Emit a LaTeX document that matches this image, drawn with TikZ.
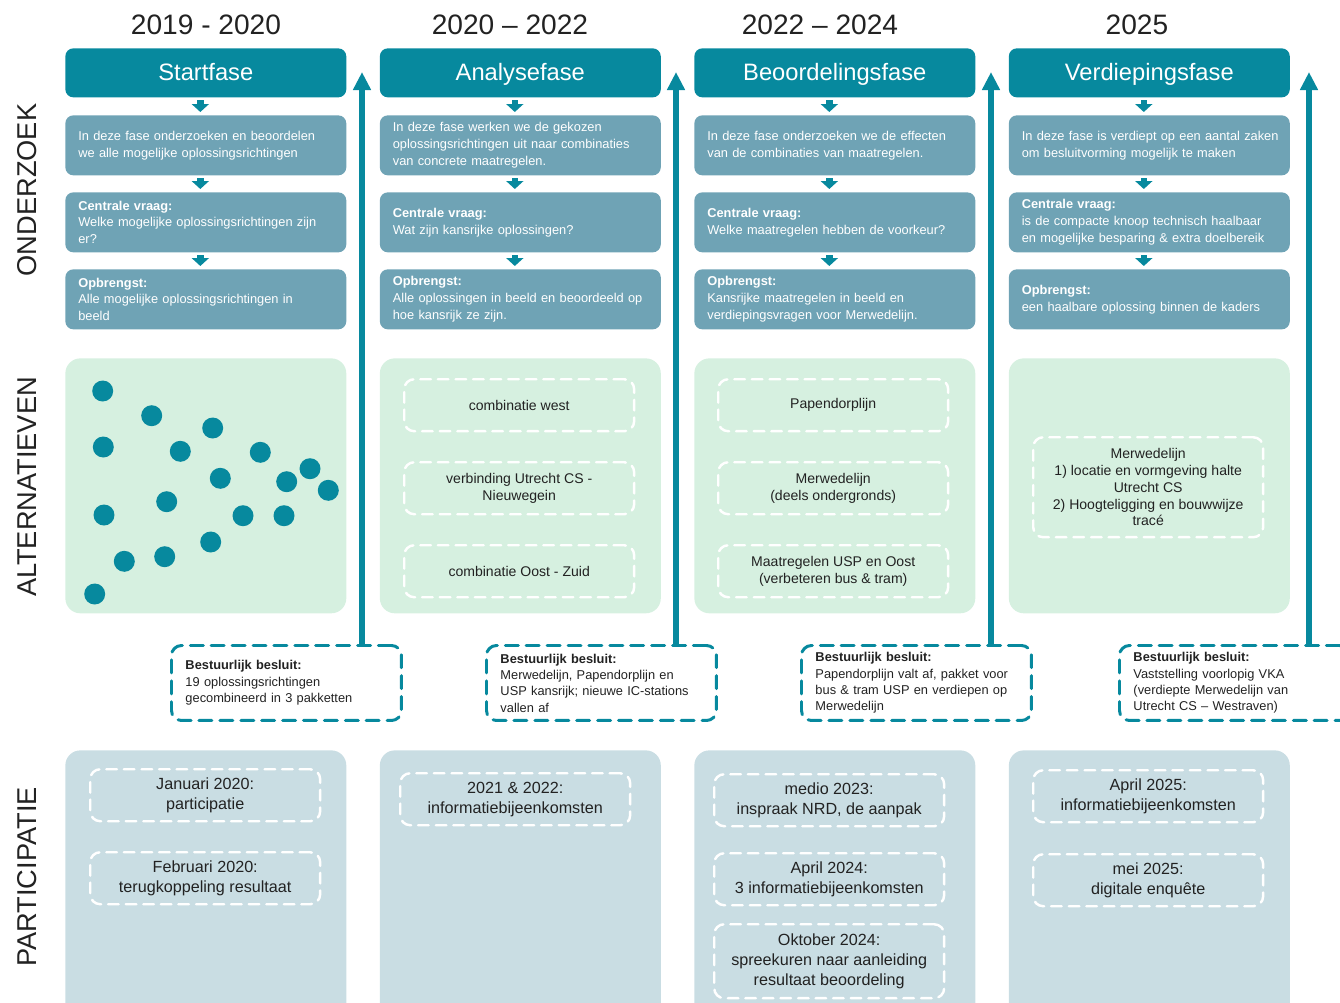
\documentclass[tikz,border=0pt]{standalone}
\usepackage{fontspec}
\setmainfont{Liberation Sans}
\usepackage{tikz}
\usetikzlibrary{arrows.meta}
\definecolor{pteal}{HTML}{07899E}
\definecolor{pblue}{HTML}{6FA3B5}
\definecolor{pmint}{HTML}{D6F0E0}
\definecolor{pgrey}{HTML}{C9DDE3}
\definecolor{ptext}{HTML}{222222}

\begin{document}
\begin{tikzpicture}[line cap=round,line join=round,x=0.02cm,y=-0.02cm,
fasebox/.style={fill=pteal,rounded corners=0.16cm,minimum width=5.62cm,
 minimum height=0.98cm,anchor=north west,text=white,
 text height=1.08em,text depth=0.2em,
 font=\fontsize{13.5pt}{16pt}\selectfont},
infobox/.style={fill=pblue,rounded corners=0.16cm,text width=5.1cm,
 inner xsep=0.26cm,minimum height=1.2cm,anchor=north west,align=left,
 text=white,font=\fontsize{7.3pt}{9.6pt}\selectfont},
altbox/.style={fill=pmint,rounded corners=0.3cm,minimum width=5.62cm,
 minimum height=5.1cm,anchor=north west},
partbox/.style={fill=pgrey,rounded corners=0.3cm,minimum width=5.62cm,
 minimum height=5.4cm,anchor=north west},
witbox/.style={draw=white,line width=1.4pt,dash pattern=on 6pt off 4pt,
 rounded corners=0.2cm,minimum width=4.6cm,minimum height=1.04cm,
 anchor=north west,align=center,text=ptext,
 font=\fontsize{8pt}{9.6pt}\selectfont},
partwit/.style={witbox,font=\fontsize{9.2pt}{11.3pt}\selectfont},
besluitbox/.style={draw=pteal,line width=1.7pt,dash pattern=on 7.4pt off 4.5pt,
 rounded corners=0.2cm,text width=4.04cm,inner xsep=0.28cm,
 minimum height=1.5cm,anchor=north west,align=left,text=ptext,
 font=\fontsize{7.3pt}{9.3pt}\selectfont},
downarr/.style={draw=pteal,line width=0.13cm,line cap=butt,
 -{Triangle[width=0.34cm,length=0.16cm]},shorten <=0.05cm,shorten >=0.06cm},
uparr/.style={draw=pteal,line width=0.11cm,line cap=butt,
 -{Triangle[width=0.34cm,length=0.36cm]}},
jaar/.style={text=ptext,font=\fontsize{16pt}{18pt}\selectfont},
rij/.style={rotate=90,text=ptext,font=\fontsize{15.5pt}{18pt}\selectfont}]
\useasboundingbox (0,0) rectangle (1340,1002);
\clip (0,0) rectangle (1340,1002);
% jaren en rijen
\node[jaar] (y1) at (206,25) {2019 - 2020};
\node[jaar] (y2) at (510,25) {2020 – 2022};
\node[jaar] (y3) at (820,25) {2022 – 2024};
\node[jaar] (y4) at (1137,25) {2025};
\node[rij] (r1) at (27,190) {ONDERZOEK};
\node[rij] (r2) at (27,487) {ALTERNATIEVEN};
\node[rij] (r3) at (27,877) {PARTICIPATIE};
% fasen
\node[fasebox] (h1) at (65,48) {Startfase};
\node[fasebox] (h2) at (379.5,48) {Analysefase};
\node[fasebox] (h3) at (694,48) {Beoordelingsfase};
\node[fasebox] (h4) at (1008.5,48) {Verdiepingsfase};
% onderzoek
\node[infobox] (a1) at (65,115) {In deze fase onderzoeken en beoordelen\\
we alle mogelijke oplossingsrichtingen};
\node[infobox] (c1) at (65,192) {\textbf{Centrale vraag:}\\
Welke mogelijke oplossingsrichtingen zijn\\ er?};
\node[infobox] (o1) at (65,269) {\textbf{Opbrengst:}\\
Alle mogelijke oplossingsrichtingen in\\ beeld};
\node[infobox] (a2) at (379.5,115) {In deze fase werken we de gekozen\\
oplossingsrichtingen uit naar combinaties\\ van concrete maatregelen.};
\node[infobox] (c2) at (379.5,192) {\textbf{Centrale vraag:}\\
Wat zijn kansrijke oplossingen?};
\node[infobox] (o2) at (379.5,269) {\textbf{Opbrengst:}\\
Alle oplossingen in beeld en beoordeeld op\\ hoe kansrijk ze zijn.};
\node[infobox] (a3) at (694,115) {In deze fase onderzoeken we de effecten\\
van de combinaties van maatregelen.};
\node[infobox] (c3) at (694,192) {\textbf{Centrale vraag:}\\
Welke maatregelen hebben de voorkeur?};
\node[infobox] (o3) at (694,269) {\textbf{Opbrengst:}\\
Kansrijke maatregelen in beeld en\\ verdiepingsvragen voor Merwedelijn.};
\node[infobox] (a4) at (1008.5,115) {\mbox{In deze fase is verdiept op een aantal zaken}\\
om besluitvorming mogelijk te maken};
\node[infobox] (c4) at (1008.5,192) {\textbf{Centrale vraag:}\\
is de compacte knoop technisch haalbaar\\ en mogelijke besparing \& extra doelbereik};
\node[infobox] (o4) at (1008.5,269) {\textbf{Opbrengst:}\\
een haalbare oplossing binnen de kaders};
\foreach \i in {1,...,4} {
\draw[downarr] ([xshift=-0.11cm]h\i.south) -- ([xshift=-0.11cm]a\i.north);
\draw[downarr] ([xshift=-0.11cm]a\i.south) -- ([xshift=-0.11cm]c\i.north);
\draw[downarr] ([xshift=-0.11cm]c\i.south) -- ([xshift=-0.11cm]o\i.north);
}
% alternatieven
\node[altbox] (alt1) at (65,358) {};
\node[altbox] (alt2) at (379.5,358) {};
\node[altbox] (alt3) at (694,358) {};
\node[altbox] (alt4) at (1008.5,358) {};
\foreach \x/\y in {102.7/391,151.7/415.7,212.7/428,103.3/447,180.3/451.3,
260.3/452.3,220.3/478.3,310/468.7,286.7/481.7,328.3/490.3,166.7/501.7,
104/515,243/515.7,284/515.7,210.7/542,124.3/561.3,164.7/556.7,94.7/594}
\fill[pteal] (\x,\y) circle (0.21cm);
\node[witbox] (w21) at (403,378) {combinatie west};
\node[witbox] (w22) at (403,461) {verbinding Utrecht CS -\\ Nieuwegein};
\node[witbox] (w23) at (403,544) {combinatie Oost - Zuid};
\node[witbox] (w31) at (717,378) {Papendorplijn};
\node[witbox] (w32) at (717,461) {Merwedelijn\\ (deels ondergronds)};
\node[witbox] (w33) at (717,544) {Maatregelen USP en Oost\\ (verbeteren bus \& tram)};
\node[witbox,minimum height=2cm] (w41) at (1032,436) {Merwedelijn\\
1) locatie en vormgeving halte\\ Utrecht CS\\ 2) Hoogteligging en bouwwijze\\ tracé};
% besluiten
\node[besluitbox] (b1) at (170,644) {\textbf{Bestuurlijk besluit:}\\
19 oplossingsrichtingen\\ gecombineerd in 3 pakketten};
\node[besluitbox] (b2) at (485,644) {\textbf{Bestuurlijk besluit:}\\
Merwedelijn, Papendorplijn en\\ USP kansrijk; nieuwe IC-stations\\ vallen af};
\node[besluitbox] (b3) at (800,644) {\textbf{Bestuurlijk besluit:}\\
Papendorplijn valt af, pakket voor\\ bus \& tram USP en verdiepen op\\ Merwedelijn};
\node[besluitbox] (b4) at (1118,644) {\textbf{Bestuurlijk besluit:}\\
Vaststelling voorlopig VKA\\ (verdiepte Merwedelijn van\\ Utrecht CS – Westraven)};
\foreach \i/\x in {1/362,2/676,3/991,4/1309} {
\coordinate (t\i) at (\x,72);
\draw[uparr] (b\i.north -| t\i) -- (t\i);
}
% participatie
\node[partbox] (p1) at (65,750) {};
\node[partbox] (p2) at (379.5,750) {};
\node[partbox] (p3) at (694,750) {};
\node[partbox] (p4) at (1008.5,750) {};
\node[partwit] (q11) at (89,768) {Januari 2020:\\ participatie};
\node[partwit] (q12) at (89,851) {Februari 2020:\\ terugkoppeling resultaat};
\node[partwit] (q21) at (399,772) {2021 \& 2022:\\ informatiebijeenkomsten};
\node[partwit] (q31) at (713,773) {medio 2023:\\ inspraak NRD, de aanpak};
\node[partwit] (q32) at (713,852) {April 2024:\\ 3 informatiebijeenkomsten};
\node[partwit,minimum height=1.48cm] (q33) at (713,923) {Oktober 2024:\\
spreekuren naar aanleiding\\ resultaat beoordeling};
\node[partwit] (q41) at (1032,769) {April 2025:\\ informatiebijeenkomsten};
\node[partwit] (q42) at (1032,853) {mei 2025:\\ digitale enquête};
\end{tikzpicture}
\end{document}
